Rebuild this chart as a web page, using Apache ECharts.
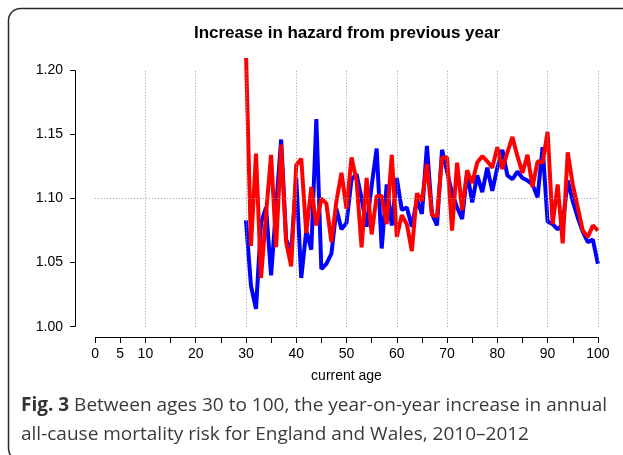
<!DOCTYPE html>
<html>
<head>
<meta charset="utf-8">
<script src="https://cdn.jsdelivr.net/npm/echarts@6/dist/echarts.min.js"></script>
<style>
  html, body { margin: 0; padding: 0; background: #fff; }
  #chart { width: 623px; height: 455px; }
</style>
</head>
<body>
<div id="chart"></div>
<script>
// current age, 30..100
var ages = [
  30, 31, 32, 33, 34, 35, 36, 37, 38, 39,
  40, 41, 42, 43, 44, 45, 46, 47, 48, 49,
  50, 51, 52, 53, 54, 55, 56, 57, 58, 59,
  60, 61, 62, 63, 64, 65, 66, 67, 68, 69,
  70, 71, 72, 73, 74, 75, 76, 77, 78, 79,
  80, 81, 82, 83, 84, 85, 86, 87, 88, 89,
  90, 91, 92, 93, 94, 95, 96, 97, 98, 99,
  100
];
// blue line
var blueVals = [
  1.083, 1.032, 1.014, 1.081, 1.093, 1.040, 1.093, 1.146, 1.068, 1.058,
  1.116, 1.038, 1.075, 1.060, 1.162, 1.045, 1.049, 1.057, 1.092, 1.076,
  1.081, 1.115, 1.119, 1.100, 1.078, 1.110, 1.139, 1.061, 1.111, 1.079,
  1.116, 1.091, 1.093, 1.078, 1.099, 1.088, 1.141, 1.088, 1.079, 1.138,
  1.121, 1.104, 1.093, 1.084, 1.120, 1.097, 1.118, 1.105, 1.124, 1.106,
  1.124, 1.138, 1.118, 1.115, 1.121, 1.116, 1.114, 1.111, 1.101, 1.140,
  1.082, 1.080, 1.076, 1.080, 1.114, 1.098, 1.085, 1.074, 1.066, 1.068,
  1.049
];
// red line
var redVals = [
  1.215, 1.063, 1.135, 1.038, 1.088, 1.134, 1.062, 1.142, 1.066, 1.047,
  1.126, 1.131, 1.073, 1.109, 1.079, 1.100, 1.096, 1.066, 1.098, 1.120,
  1.092, 1.132, 1.114, 1.062, 1.116, 1.072, 1.102, 1.102, 1.080, 1.134,
  1.070, 1.087, 1.080, 1.059, 1.104, 1.098, 1.127, 1.087, 1.086, 1.132,
  1.132, 1.075, 1.128, 1.091, 1.122, 1.112, 1.128, 1.133, 1.129, 1.124,
  1.140, 1.123, 1.136, 1.148, 1.133, 1.120, 1.134, 1.109, 1.129, 1.128,
  1.152, 1.080, 1.111, 1.065, 1.136, 1.111, 1.093, 1.075, 1.070, 1.079,
  1.075
];
var xTicks = [0, 5, 10, 15, 20, 25, 30, 35, 40, 45, 50, 55, 60, 65, 70, 75, 80, 85, 90, 95, 100];
var xLabels = [0, 5, 10, 20, 30, 40, 50, 60, 70, 80, 90, 100];
var yTicks = [1.00, 1.05, 1.10, 1.15, 1.20];
var xGrid = [10, 20, 30, 40, 50, 60, 70, 80, 90, 100];

var font = '"Liberation Sans", Arial, Helvetica, sans-serif';

function pair(a, b) {
  return a.map(function (v, i) { return [v, b[i]]; });
}

// dotted grid + R-style axis lines, all in data coords
var gridLines = xGrid.map(function (x) {
  return [{ coord: [x, 1.0] }, { coord: [x, 1.2] }];
});
gridLines.push([{ coord: [0, 1.1] }, { coord: [100, 1.1] }]);
var axisLines = [
  [{ coord: [0, 0.992] }, { coord: [100, 0.992] }],
  [{ coord: [-4, 1.0] }, { coord: [-4, 1.2] }]
];

var chart = echarts.init(document.getElementById('chart'), null, { renderer: 'canvas' });
chart.setOption({
  animation: false,
  backgroundColor: '#fff',
  grid: { left: 75, right: 5, top: 60, bottom: 118 },
  xAxis: {
    type: 'value', min: -4, max: 104,
    name: 'current age', nameLocation: 'middle', nameGap: 32,
    nameTextStyle: { fontFamily: font, fontSize: 14, color: '#000' },
    axisLine: { show: false, onZero: false },
    axisTick: { show: true, customValues: xTicks, length: 6, lineStyle: { color: '#000', width: 1 } },
    axisLabel: { customValues: xLabels, margin: 10, fontFamily: font, fontSize: 14, color: '#000' },
    splitLine: { show: false }
  },
  yAxis: {
    type: 'value', min: 0.992, max: 1.208,
    axisLine: { show: false, onZero: false },
    axisTick: { show: true, customValues: yTicks, length: 5, lineStyle: { color: '#000', width: 1 } },
    axisLabel: {
      customValues: yTicks, margin: 12, fontFamily: font, fontSize: 14, color: '#000',
      formatter: function (v) { return v.toFixed(2); }
    },
    splitLine: { show: false }
  },
  series: [
    {
      type: 'line', data: [], silent: true, z: 1,
      markLine: {
        silent: true, symbol: 'none', label: { show: false },
        lineStyle: { color: '#999', width: 1, type: [1, 2] },
        data: gridLines
      }
    },
    {
      type: 'line', data: [], silent: true, z: 1,
      markLine: {
        silent: true, symbol: 'none', label: { show: false },
        lineStyle: { color: '#000', width: 1, type: 'solid' },
        data: axisLines
      }
    },
    {
      name: 'blue', type: 'line', data: pair(ages, blueVals),
      showSymbol: false, clip: true, z: 3,
      lineStyle: { color: '#0000ff', width: 4 }
    },
    {
      name: 'red', type: 'line', data: pair(ages, redVals),
      showSymbol: false, clip: true, z: 4,
      lineStyle: { color: '#ff0000', width: 4 }
    }
  ],
  graphic: [
    {
      type: 'rect', silent: true, z: 0,
      shape: { x: 8.5, y: 8.5, width: 700, height: 452, r: 12 },
      style: { fill: 'none', stroke: '#2a2a2a', lineWidth: 1.5 }
    },
    {
      type: 'text', silent: true,
      style: {
        x: 347, y: 33, text: 'Increase in hazard from previous year',
        textAlign: 'center', textVerticalAlign: 'middle',
        font: 'bold 17px ' + font, fill: '#000'
      }
    },
    {
      type: 'text', silent: true,
      style: {
        x: 21, y: 406,
        text: '{b|Fig. 3} Between ages 30 to 100, the year-on-year increase in annual',
        textVerticalAlign: 'middle',
        font: '19px "Open Sans", sans-serif', fill: '#3a3a3a',
        rich: { b: { fontWeight: 'bold', fontSize: 19, fontFamily: '"Open Sans", sans-serif', fill: '#333' } }
      }
    },
    {
      type: 'text', silent: true,
      style: {
        x: 21, y: 435,
        text: 'all-cause mortality risk for England and Wales, 2010\u20132012',
        textVerticalAlign: 'middle',
        font: '19px "Open Sans", sans-serif', fill: '#3a3a3a'
      }
    }
  ]
});
</script>
</body>
</html>
